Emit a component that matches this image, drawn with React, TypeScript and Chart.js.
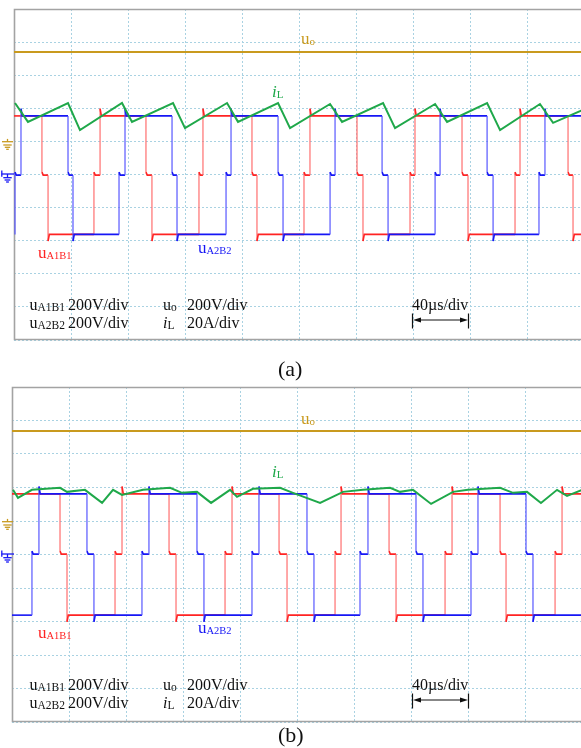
import React, { useEffect, useRef } from 'react';
import { Chart, registerables } from 'chart.js';

Chart.register(...registerables);

// ---------------- axes: 10 × 40 µs horizontally, 10 divisions vertically ----------------
const T_MAX_US = 400; // 10 div × 40 µs/div
const T_STEP_US = 40;
const Y_MAX_DIV = 10;
const Y_STEP_DIV = 1;

// ---------------- panel (a) ----------------
// levels of the three-level bridge voltages (divisions): [-V, 0, +V]
const uLevelsA = [3.19, 4.98, 6.77];
const uoLevelA = 8.7;
// u_A1B1: edge times (µs) and state after each edge (-1, 0, +1); first state = at t=0
const uA1B1TimesA = [19.6, 23.9, 56.1, 60.4, 92.6, 96.8, 129.8, 132.6, 167.0, 170.5, 203.5, 207.7, 240.7, 244.9, 277.9, 281.4, 314.4, 318.6, 351.6, 355.1, 388.8, 392.3];
const uA1B1StatesA = [1, 0, -1, 0, 1, 0, -1, 0, 1, 0, -1, 0, 1, 0, -1, 0, 1, 0, -1, 0, 1, 0, -1];
const uA2B2TimesA = [0.7, 4.9, 37.9, 41.4, 73.7, 77.9, 110.9, 114.4, 148.8, 152.3, 185.3, 188.8, 221.8, 225.3, 258.3, 262.5, 295.5, 299.0, 332.0, 336.2, 368.4, 372.6];
const uA2B2StatesA = [-1, 0, 1, 0, -1, 0, 1, 0, -1, 0, 1, 0, -1, 0, 1, 0, -1, 0, 1, 0, -1, 0, 1];
// inductor current i_L (µs, div)
const iLTimesA = [0.7, 9.8, 37.9, 46.3, 75.8, 82.8, 111.6, 120.0, 149.5, 157.2, 185.3, 193.7, 221.8, 230.2, 259.0, 267.4, 295.5, 303.9, 332.0, 341.1, 369.1, 378.3, 400];
const iLValuesA = [7.16, 6.59, 7.16, 6.34, 7.16, 6.59, 7.16, 6.40, 7.16, 6.59, 7.16, 6.40, 7.13, 6.59, 7.16, 6.40, 7.13, 6.59, 7.16, 6.34, 7.13, 6.56, 6.97];

// ---------------- panel (b) ----------------
const uLevelsB = [3.19, 5.01, 6.81];
const uoLevelB = 8.69;
const uA1B1TimesB = [33.7, 38.6, 72.3, 77.2, 110.2, 115.1, 149.5, 154.4, 187.4, 193.0, 226.7, 230.9, 264.6, 269.5, 303.9, 308.8, 342.5, 346.7, 381.1, 386.0];
const uA1B1StatesB = [1, 0, -1, 0, 1, 0, -1, 0, 1, 0, -1, 0, 1, 0, -1, 0, 1, 0, -1, 0, 1];
const uA2B2TimesB = [14.0, 18.9, 52.6, 57.5, 91.2, 96.1, 129.8, 134.7, 168.4, 173.3, 207.0, 211.9, 244.2, 249.8, 283.5, 288.4, 322.1, 327.0, 360.7, 365.6];
const uA2B2StatesB = [-1, 0, 1, 0, -1, 0, 1, 0, -1, 0, 1, 0, -1, 0, 1, 0, -1, 0, 1, 0, -1];
const iLTimesB = [0.7, 4.2, 14.0, 33.7, 38.6, 51.2, 63.2, 70.9, 77.2, 91.9, 110.9, 119.3, 129.8, 139.7, 153.0, 157.9, 169.1, 188.1, 197.2, 216.2, 232.3, 246.3, 265.3, 272.3, 281.4, 294.1, 309.5, 320.0, 342.5, 351.6, 361.4, 371.2, 382.5, 389.5, 400];
const iLValuesB = [6.93, 6.69, 6.93, 6.99, 6.87, 6.93, 6.54, 6.93, 6.78, 6.93, 6.99, 6.84, 6.87, 6.54, 6.93, 6.72, 6.96, 6.99, 6.84, 6.54, 6.87, 6.93, 6.99, 6.87, 6.93, 6.51, 6.87, 6.93, 6.99, 6.84, 6.87, 6.54, 6.93, 6.75, 6.93];

// ---------------- style ----------------
const RED = '#ff2323';
const RED_EDGE = 'rgba(255,105,105,0.85)';
const BLUE = '#1616f5';
const BLUE_EDGE = 'rgba(80,80,255,0.85)';
const GREEN = '#1fa84a';
const GOLD = '#c99a1e';
const GRID = '#a9d2e2';
const FRAME = '#a3a3a3';
const SERIF = '"Liberation Serif", "Times New Roman", Times, serif';

const SPIKE_HI = 0.22;
const SPIKE_LO = 0.2;
const SPIKE_Z = 0.09;
const SETTLE = 0.9;

function stepPoints(times: number[], states: number[], levels: number[]) {
  const lv = (s: number) => levels[s + 1];
  const pts: { x: number; y: number }[] = [{ x: 0, y: lv(states[0]) }];
  times.forEach((t, i) => {
    const from = states[i];
    const to = states[i + 1];
    const kick = to === 1 ? SPIKE_HI : to === -1 ? -SPIKE_LO : SPIKE_Z;
    pts.push({ x: t, y: lv(from) });
    pts.push({ x: t, y: lv(to) + kick });
    pts.push({ x: t + SETTLE, y: lv(to) });
  });
  pts.push({ x: T_MAX_US, y: lv(states[states.length - 1]) });
  return pts;
}

function zipPoints(ts: number[], vs: number[]) {
  return ts.map((t, i) => ({ x: t, y: vs[i] }));
}

function squareDataset(pts: { x: number; y: number }[], color: string, edge: string) {
  return {
    data: pts,
    borderColor: color,
    borderWidth: 1.6,
    pointRadius: 0,
    tension: 0,
    segment: {
      borderColor: (c: any) => (c.p0.parsed.x === c.p1.parsed.x ? edge : color),
      borderWidth: (c: any) => (c.p0.parsed.x === c.p1.parsed.x ? 1.35 : 1.6),
    },
  };
}

function buildDatasets(
  uoLevel: number,
  levels: number[],
  rT: number[], rS: number[],
  bT: number[], bS: number[],
  gT: number[], gV: number[]
) {
  return [
    { data: zipPoints(gT, gV), borderColor: GREEN, borderWidth: 2, pointRadius: 0, tension: 0 },
    squareDataset(stepPoints(bT, bS, levels), BLUE, BLUE_EDGE),
    squareDataset(stepPoints(rT, rS, levels), RED, RED_EDGE),
    { data: [{ x: 0, y: uoLevel }, { x: T_MAX_US, y: uoLevel }], borderColor: GOLD, borderWidth: 2, pointRadius: 0 },
  ];
}

const framePlugin = {
  id: 'scopeFrame',
  beforeDatasetsDraw(chart: any) {
    const { ctx, chartArea } = chart;
    const { left, top, right, bottom } = chartArea;
    ctx.save();
    ctx.strokeStyle = FRAME;
    ctx.lineWidth = 1.6;
    ctx.beginPath();
    ctx.moveTo(right + 2, top + 0.5);
    ctx.lineTo(left + 0.5, top + 0.5);
    ctx.lineTo(left + 0.5, bottom - 0.5);
    ctx.lineTo(right + 2, bottom - 0.5);
    ctx.stroke();
    ctx.restore();
  },
};

function Scope(props: { top: number; width: number; height: number; padding: any; datasets: any[] }) {
  const ref = useRef<HTMLCanvasElement>(null);
  useEffect(() => {
    const axis = (max: number, step: number) => ({
      type: 'linear' as const,
      min: 0,
      max,
      ticks: { display: false, stepSize: step },
      grid: { color: GRID, lineWidth: 1, drawTicks: false },
      border: { display: false, dash: [2, 2] },
    });
    const chart = new Chart(ref.current as HTMLCanvasElement, {
      type: 'line',
      data: { datasets: props.datasets as any },
      options: {
        responsive: false,
        animation: false,
        events: [],
        layout: { padding: props.padding },
        plugins: { legend: { display: false }, tooltip: { enabled: false } },
        scales: { x: axis(T_MAX_US, T_STEP_US), y: axis(Y_MAX_DIV, Y_STEP_DIV) },
      } as any,
      plugins: [framePlugin],
    });
    return () => chart.destroy();
  }, []);
  return (
    <canvas
      ref={ref}
      width={props.width}
      height={props.height}
      style={{ position: 'absolute', left: 0, top: props.top, width: props.width, height: props.height }}
    />
  );
}

function Txt(p: { x: number; y: number; size: number; color?: string; italic?: boolean; children: any }) {
  return (
    <span
      style={{
        position: 'absolute',
        left: p.x,
        top: p.y - 0.8375 * p.size,
        fontSize: p.size,
        lineHeight: `${p.size}px`,
        fontFamily: SERIF,
        color: p.color || '#111',
        whiteSpace: 'nowrap',
        fontStyle: p.italic ? 'italic' : 'normal',
      }}
    >
      {p.children}
    </span>
  );
}

function Sub(p: { size: number; children: any; off?: number }) {
  return (
    <span style={{ fontSize: p.size, position: 'relative', top: p.off ?? 1.5, fontStyle: 'normal' }}>{p.children}</span>
  );
}

function Overlay({ dy }: { dy: number }) {
  return (
    <>
      {/* trace names */}
      <Txt x={301} y={44 + dy} size={17} color={GOLD}>u<Sub size={11}>o</Sub></Txt>
      <Txt x={272} y={97 + dy} size={17} color={GREEN}><i>i</i><Sub size={11}>L</Sub></Txt>
      <Txt x={38} y={258 + dy} size={17} color={RED}>u<Sub size={10.5}>A1B1</Sub></Txt>
      <Txt x={198} y={253 + dy} size={17} color={BLUE}>u<Sub size={10.5}>A2B2</Sub></Txt>
      {/* scales */}
      <Txt x={29.5} y={310 + dy} size={16}>u<Sub size={11.5}>A1B1</Sub></Txt>
      <Txt x={68} y={310 + dy} size={16}>200V/div</Txt>
      <Txt x={29.5} y={328 + dy} size={16}>u<Sub size={11.5}>A2B2</Sub></Txt>
      <Txt x={68} y={328 + dy} size={16}>200V/div</Txt>
      <Txt x={163} y={310 + dy} size={16}>u<Sub size={11.5}>o</Sub></Txt>
      <Txt x={187} y={310 + dy} size={16}>200V/div</Txt>
      <Txt x={163} y={328 + dy} size={16}><i>i</i><Sub size={11.5}>L</Sub></Txt>
      <Txt x={187} y={328 + dy} size={16}>20A/div</Txt>
      <Txt x={412} y={310 + dy} size={16}>40µs/div</Txt>
    </>
  );
}

function Marks({ dy }: { dy: number }) {
  const gy = 141.7 + dy;
  const by = 174 + dy;
  const ay = 320 + dy;
  return (
    <g>
      {/* u_o ground marker */}
      <g stroke={GOLD} strokeWidth={1.3}>
        <line x1={7.5} y1={gy - 2.8} x2={7.5} y2={gy} />
        <line x1={2} y1={gy} x2={13} y2={gy} />
        <line x1={3.3} y1={gy + 3.3} x2={11.7} y2={gy + 3.3} />
        <line x1={4.8} y1={gy + 5.6} x2={10.2} y2={gy + 5.6} />
        <line x1={6.2} y1={gy + 7.6} x2={8.8} y2={gy + 7.6} />
      </g>
      {/* bridge-voltage ground marker */}
      <g stroke={BLUE} strokeWidth={1.3}>
        <line x1={1.8} y1={by - 3.4} x2={1.8} y2={by + 2.8} />
        <line x1={1.8} y1={by} x2={14} y2={by} />
        <line x1={7.5} y1={by} x2={7.5} y2={by + 3.7} />
        <line x1={3.3} y1={by + 3.7} x2={11.7} y2={by + 3.7} />
        <line x1={4.6} y1={by + 6} x2={10.4} y2={by + 6} />
        <line x1={6.1} y1={by + 8} x2={8.9} y2={by + 8} />
      </g>
      {/* time-scale arrow */}
      <g stroke="#111" strokeWidth={1.2}>
        <line x1={412.5} y1={ay - 6.5} x2={412.5} y2={ay + 8.5} />
        <line x1={468.5} y1={ay - 6.5} x2={468.5} y2={ay + 8.5} />
        <line x1={418} y1={ay} x2={463} y2={ay} />
      </g>
      <polygon points={`${413},${ay} ${421},${ay - 2.6} ${421},${ay + 2.6}`} fill="#111" />
      <polygon points={`${468},${ay} ${460},${ay - 2.6} ${460},${ay + 2.6}`} fill="#111" />
    </g>
  );
}

const datasetsA = buildDatasets(uoLevelA, uLevelsA, uA1B1TimesA, uA1B1StatesA, uA2B2TimesA, uA2B2StatesA, iLTimesA, iLValuesA);
const datasetsB = buildDatasets(uoLevelB, uLevelsB, uA1B1TimesB, uA1B1StatesB, uA2B2TimesB, uA2B2StatesB, iLTimesB, iLValuesB);

export default function App() {
  return (
    <div
      style={{
        position: 'absolute',
        left: 0,
        top: 0,
        width: 581,
        height: 748,
        overflow: 'hidden',
        background: '#fff',
      }}
    >
      <Scope top={0} width={586} height={346} padding={{ left: 14, top: 9, right: 2, bottom: 6 }} datasets={datasetsA} />
      <Scope top={378} width={584} height={350} padding={{ left: 12, top: 9, right: 2, bottom: 6 }} datasets={datasetsB} />
      <svg width={581} height={748} style={{ position: 'absolute', left: 0, top: 0, pointerEvents: 'none' }}>
        <Marks dy={0} />
        <Marks dy={380} />
      </svg>
      <Overlay dy={0} />
      <Overlay dy={380} />
      <Txt x={278} y={376} size={22}>(a)</Txt>
      <Txt x={278} y={742} size={22}>(b)</Txt>
    </div>
  );
}
